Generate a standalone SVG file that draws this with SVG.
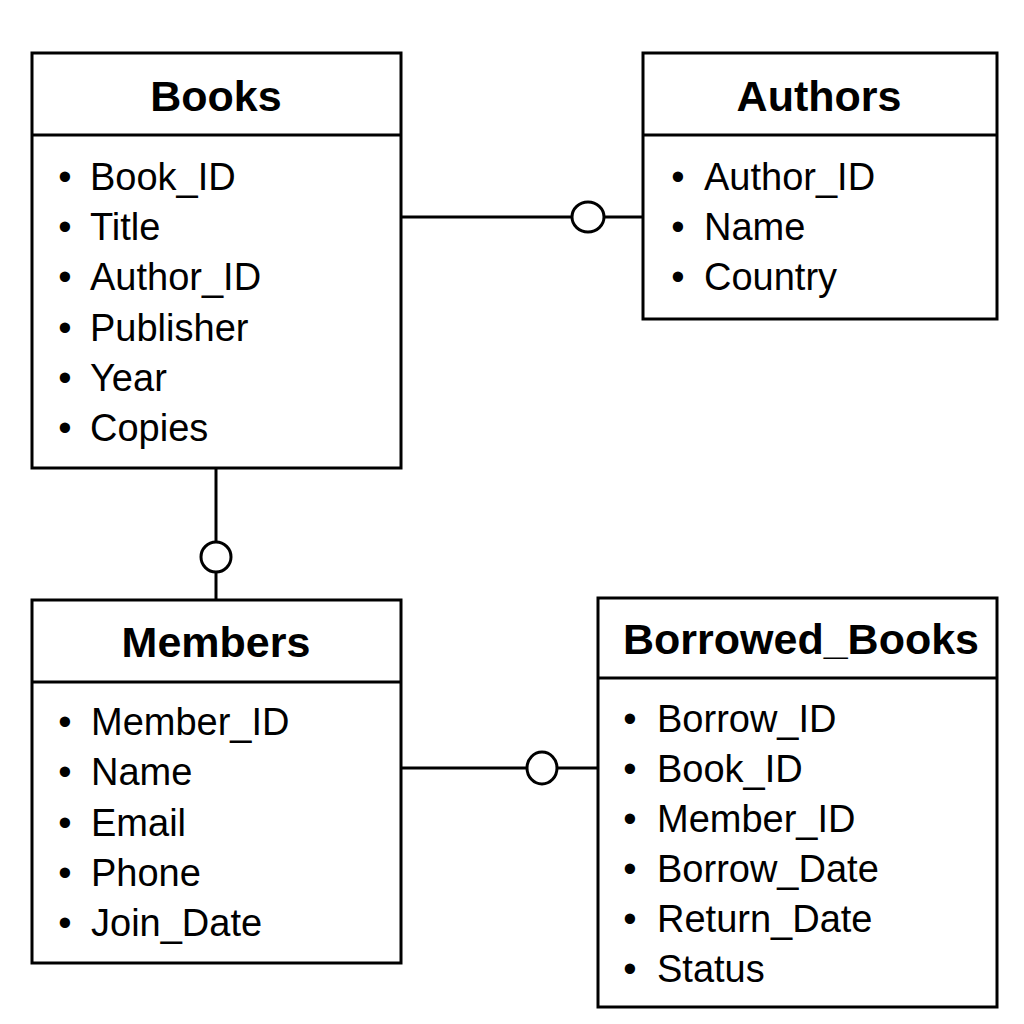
<svg xmlns="http://www.w3.org/2000/svg" width="1024" height="1024" viewBox="0 0 1024 1024">
<style>
.box{fill:#fff;stroke:#000;stroke-width:3}
.div{stroke:#000;stroke-width:3}
.title{font-family:"Liberation Sans",Arial,sans-serif;font-size:43px;font-weight:bold;text-anchor:middle;fill:#000}
.attr{font-family:"Liberation Sans",Arial,sans-serif;font-size:38px;fill:#000}
.b{text-anchor:middle}
.conn{stroke:#000;stroke-width:3;fill:none}
.opt{fill:#fff;stroke:#000;stroke-width:3}
</style>
<rect width="1024" height="1024" fill="#fff"/>
<g id="connectors">
<line class="conn" x1="401" y1="217" x2="643" y2="217"/>
<ellipse class="opt" cx="588" cy="217" rx="16" ry="15"/>
<line class="conn" x1="216" y1="468" x2="216" y2="600"/>
<ellipse class="opt" cx="216" cy="557" rx="15" ry="15"/>
<line class="conn" x1="401" y1="768" x2="598" y2="768"/>
<ellipse class="opt" cx="542" cy="768" rx="15" ry="16"/>
</g>
<g id="books">
<rect class="box" x="32" y="53" width="369" height="415"/>
<line class="div" x1="32" y1="135" x2="401" y2="135"/>
<text class="title" x="216" y="111">Books</text>
<g class="attr">
<text class="b" x="65" y="190">•</text><text x="90" y="190">Book_ID</text>
<text class="b" x="65" y="240">•</text><text x="90" y="240">Title</text>
<text class="b" x="65" y="290">•</text><text x="90" y="290">Author_ID</text>
<text class="b" x="65" y="341">•</text><text x="90" y="341">Publisher</text>
<text class="b" x="65" y="391">•</text><text x="90" y="391">Year</text>
<text class="b" x="65" y="441">•</text><text x="90" y="441">Copies</text>
</g>
</g>
<g id="authors">
<rect class="box" x="643" y="53" width="354" height="266"/>
<line class="div" x1="643" y1="135" x2="997" y2="135"/>
<text class="title" x="819" y="111">Authors</text>
<g class="attr">
<text class="b" x="678" y="190">•</text><text x="704" y="190">Author_ID</text>
<text class="b" x="678" y="240">•</text><text x="704" y="240">Name</text>
<text class="b" x="678" y="290">•</text><text x="704" y="290">Country</text>
</g>
</g>
<g id="members">
<rect class="box" x="32" y="600" width="369" height="363"/>
<line class="div" x1="32" y1="682" x2="401" y2="682"/>
<text class="title" x="216" y="657">Members</text>
<g class="attr">
<text class="b" x="65" y="735">•</text><text x="91" y="735">Member_ID</text>
<text class="b" x="65" y="785">•</text><text x="91" y="785">Name</text>
<text class="b" x="65" y="836">•</text><text x="91" y="836">Email</text>
<text class="b" x="65" y="886">•</text><text x="91" y="886">Phone</text>
<text class="b" x="65" y="936">•</text><text x="91" y="936">Join_Date</text>
</g>
</g>
<g id="borrowed_books">
<rect class="box" x="598" y="598" width="399" height="409"/>
<line class="div" x1="598" y1="678" x2="997" y2="678"/>
<text class="title" x="801" y="654">Borrowed_Books</text>
<g class="attr">
<text class="b" x="630" y="732">•</text><text x="657" y="732">Borrow_ID</text>
<text class="b" x="630" y="782">•</text><text x="657" y="782">Book_ID</text>
<text class="b" x="630" y="832">•</text><text x="657" y="832">Member_ID</text>
<text class="b" x="630" y="882">•</text><text x="657" y="882">Borrow_Date</text>
<text class="b" x="630" y="932">•</text><text x="657" y="932">Return_Date</text>
<text class="b" x="630" y="982">•</text><text x="657" y="982">Status</text>
</g>
</g>
</svg>
